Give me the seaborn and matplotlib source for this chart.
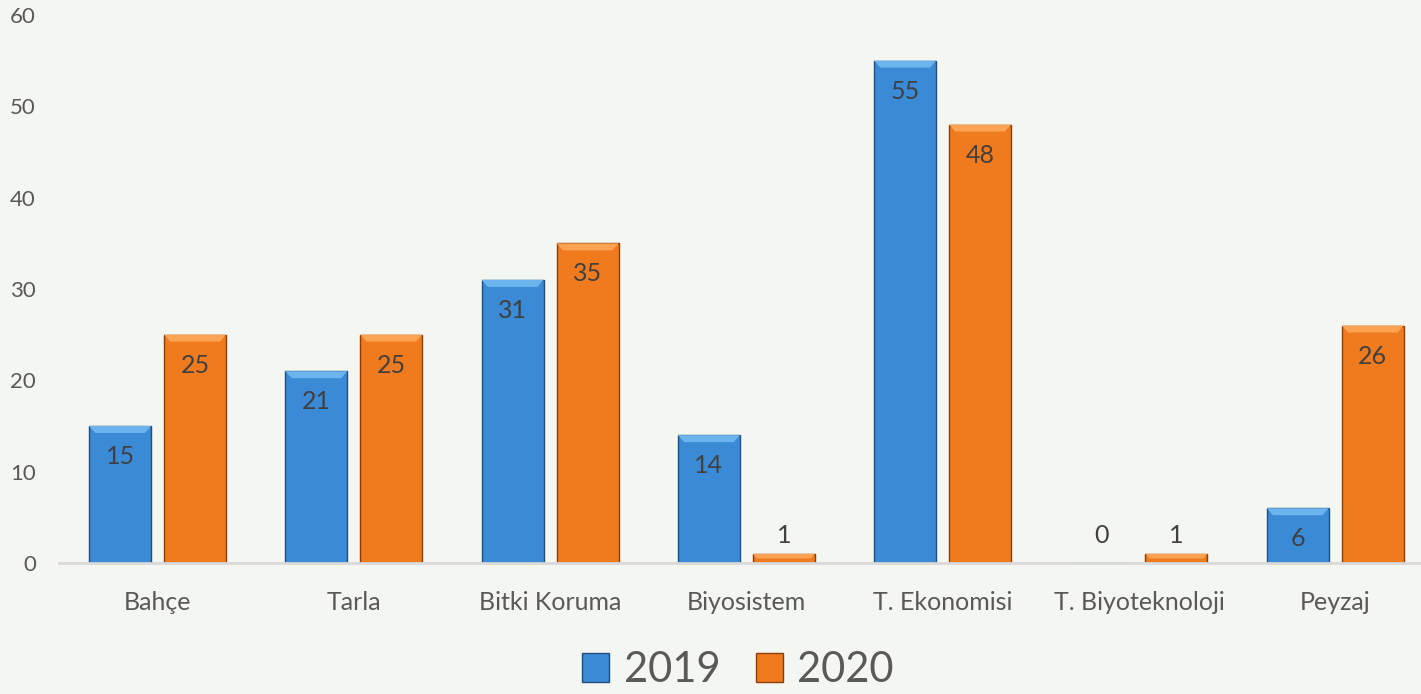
import matplotlib
matplotlib.use("Agg")
import matplotlib.pyplot as plt
import matplotlib.patches as mpatches
import pandas as pd
import seaborn as sns

# data
categories = ["Bahçe", "Tarla", "Bitki Koruma", "Biyosistem",
              "T. Ekonomisi", "T. Biyoteknoloji", "Peyzaj"]
values_2019 = [15, 21, 31, 14, 55, 0, 6]
values_2020 = [25, 25, 35, 1, 48, 1, 26]
years = ["2019", "2020"]
yticks = [0, 10, 20, 30, 40, 50, 60]

bg = "#f3f6f1"
pal = {"2019": "#3b8ad6", "2020": "#f07a1e"}
light = {"2019": "#6cb4ee", "2020": "#fba253"}
edges = {"2019": "#1f4f80", "2020": "#8a3d05"}
txt = "#595959"

df = pd.DataFrame({
    "cat": categories * 2,
    "val": values_2019 + values_2020,
    "year": [years[0]] * len(categories) + [years[1]] * len(categories),
})

sns.set_style("white")
plt.rcParams["font.family"] = ["Lato", "DejaVu Sans"]

fig = plt.figure(figsize=(14.21, 6.94), dpi=100, facecolor=bg)
# plot area runs a bit past the right edge of the picture, as in the original
ax = fig.add_axes([59.4 / 1421, 131 / 694, 1374 / 1421, 548 / 694])
ax.set_facecolor(bg)

sns.barplot(data=df, x="cat", y="val", hue="year", palette=pal,
            width=0.764, gap=0.173, ax=ax, legend=False, saturation=1)

n = len(categories)
ax.set_ylim(0, 60)
ax.set_xlim(-0.5, n - 0.5)

# bevel look: dark edge plus a lighter top facet
bars = list(ax.patches[:2 * n])
bev = 7 / 548 * 60  # ~7 px in data units
for i, p in enumerate(bars):
    yr = years[i // n]
    p.set_edgecolor(edges[yr])
    p.set_linewidth(1.0)
    h = p.get_height()
    if h <= 0:
        continue
    x0, w = p.get_x(), p.get_width()
    b = min(bev, h / 2)
    dx = w * 0.1 * (b / bev)
    ax.add_patch(mpatches.Polygon([(x0, h), (x0 + w, h), (x0 + w - dx, h - b), (x0 + dx, h - b)],
                                  closed=True, facecolor=light[yr], edgecolor="none", zorder=p.get_zorder() + 0.1))

# value labels: inside near the top, above for tiny bars
for p in bars:
    v = p.get_height()
    xc = p.get_x() + p.get_width() / 2
    off = -22 if v >= 3 else (13 if v > 0 else 20)
    ax.annotate(f"{v:.0f}", (xc, v), xytext=(0, off), textcoords="offset points",
                ha="center", va="center", fontsize=18, color="#404040", zorder=5)

ax.set_yticks(yticks)
ax.set_xlabel("")
ax.set_ylabel("")
ax.tick_params(axis="y", length=0, pad=17, labelsize=16, labelcolor=txt)
ax.tick_params(axis="x", length=0, pad=20, labelsize=18, labelcolor=txt)
for s in ["top", "right", "left"]:
    ax.spines[s].set_visible(False)
ax.spines["bottom"].set_color("#d9d9d9")
ax.spines["bottom"].set_linewidth(2)

handles = [mpatches.Patch(facecolor=pal[y], edgecolor=edges[y], label=y) for y in years]
fig.legend(handles=handles, loc="center", bbox_to_anchor=(738 / 1421, 1 - 670 / 694),
           ncol=2, frameon=False, fontsize=30, labelcolor=txt,
           handlelength=0.65, handleheight=0.67, handletextpad=0.34, columnspacing=0.86)

fig.savefig("out.png", dpi=100, facecolor=bg)
